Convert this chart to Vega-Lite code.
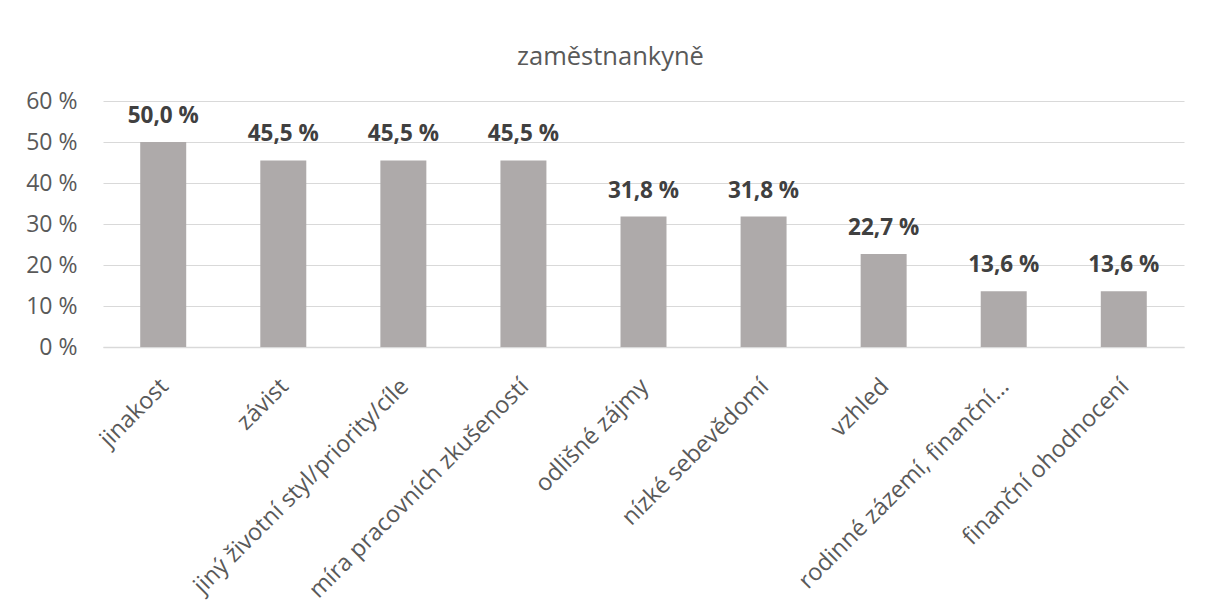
{
  "$schema": "https://vega.github.io/schema/vega-lite/v6.json",
  "width": 1081,
  "height": 246,
  "autosize": "none",
  "padding": {"left": 103, "top": 101, "right": 21, "bottom": 262},
  "background": "white",
  "title": {
    "text": "zaměstnankyně",
    "font": "Open Sans",
    "fontSize": 25.5,
    "fontWeight": "normal",
    "color": "#595959",
    "offset": 20,
    "dx": -33
  },
  "data": {
    "values": [
      {"kategorie": "jinakost", "podil": 50.0},
      {"kategorie": "závist", "podil": 45.5},
      {"kategorie": "jiný životní styl/priority/cíle", "podil": 45.5},
      {"kategorie": "míra pracovních zkušeností", "podil": 45.5},
      {"kategorie": "odlišné zájmy", "podil": 31.8},
      {"kategorie": "nízké sebevědomí", "podil": 31.8},
      {"kategorie": "vzhled", "podil": 22.7},
      {"kategorie": "rodinné zázemí, finanční…", "podil": 13.6},
      {"kategorie": "finanční ohodnocení", "podil": 13.6}
    ]
  },
  "transform": [
    {"calculate": "replace(format(datum.podil, '.1f'), '.', ',') + ' %'", "as": "stitek"}
  ],
  "encoding": {
    "x": {
      "field": "kategorie",
      "type": "nominal",
      "sort": null,
      "scale": {"paddingInner": 0.617, "paddingOuter": 0.31},
      "axis": {
        "title": null,
        "labelAngle": -45,
        "labelFont": "Open Sans",
        "labelFontSize": 23.5,
        "labelColor": "#595959",
        "labelPadding": 27,
        "labelOffset": -7,
        "ticks": false,
        "domainColor": "#d9d9d9",
        "domainWidth": 1.5,
        "labelLimit": 500
      }
    },
    "y": {
      "field": "podil",
      "type": "quantitative",
      "scale": {"domain": [0, 60], "nice": false},
      "axis": {
        "title": null,
        "values": [0, 10, 20, 30, 40, 50, 60],
        "labelExpr": "datum.value + ' %'",
        "labelFont": "Open Sans",
        "labelFontSize": 23,
        "labelColor": "#595959",
        "labelPadding": 26,
        "ticks": false,
        "domain": false,
        "gridColor": "#d9d9d9",
        "gridWidth": 1.2
      }
    }
  },
  "layer": [
    {"mark": {"type": "bar", "color": "#aeaaaa"}},
    {
      "mark": {
        "type": "text",
        "baseline": "alphabetic",
        "dy": -19,
        "font": "Open Sans",
        "fontSize": 22.5,
        "fontWeight": "bold",
        "color": "#404040"
      },
      "encoding": {"text": {"field": "stitek"}}
    }
  ],
  "config": {"view": {"stroke": null}}
}
